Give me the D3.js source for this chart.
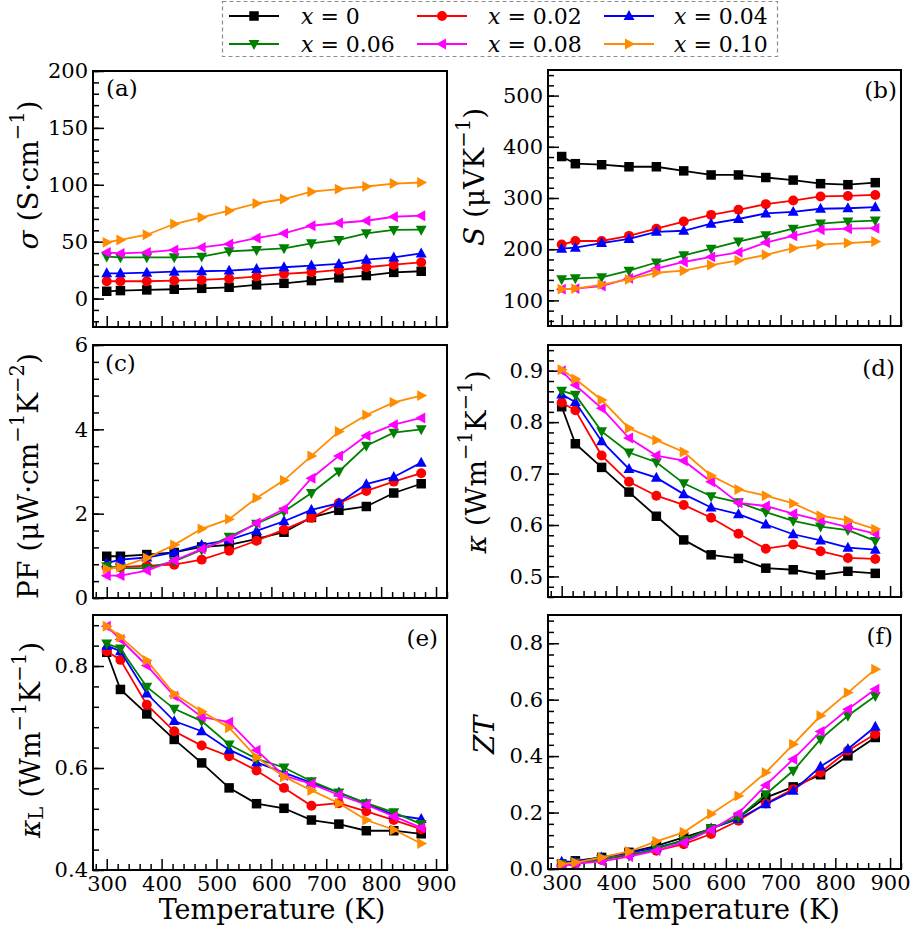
<!DOCTYPE html>
<html><head><meta charset="utf-8">
<script src="https://cdn.jsdelivr.net/npm/d3@7"></script>
<style>
body{margin:0;background:#fff}
svg{display:block}
text{font-family:"DejaVu Serif",serif;fill:#000}
</style>
</head><body>
<svg id="chart" width="913" height="938" font-family="DejaVu Serif"></svg>
<script>
// ---------------- data ----------------
const temperatures = [300, 325, 373, 423, 473, 523, 573, 623, 673, 723, 773, 823, 873];
const compositions = ["0", "0.02", "0.04", "0.06", "0.08", "0.10"];

// (a) electrical conductivity, S/cm  (rows: x = 0, 0.02, 0.04, 0.06, 0.08, 0.10)
const sigma = [
  [6.4, 7.0, 7.6, 8.2, 9.0, 9.9, 12.0, 13.4, 15.8, 18.2, 20.2, 23.0, 24.0],
  [15.2, 15.2, 15.2, 15.8, 16.4, 17.5, 19.3, 21.7, 23.1, 25.2, 27.5, 29.8, 31.8],
  [22.2, 22.2, 22.8, 23.7, 24.0, 24.6, 26.0, 27.5, 29.0, 30.4, 34.2, 36.2, 39.7],
  [36.8, 36.2, 36.2, 36.2, 36.8, 41.5, 42.7, 44.1, 48.5, 51.5, 57.3, 60.3, 60.5],
  [40.6, 39.7, 40.6, 42.7, 45.0, 48.0, 53.2, 57.3, 64.0, 66.4, 68.4, 71.9, 72.8],
  [49.4, 51.5, 56.1, 65.5, 71.3, 77.2, 83.6, 87.5, 93.9, 96.2, 98.5, 101.1, 102.0]
];
// (b) Seebeck coefficient, uV/K
const seebeck = [
  [381, 367, 365, 361, 361, 353, 345, 345, 340, 335, 328, 326, 330],
  [209, 216, 216, 226, 240, 254, 267, 277, 288, 295, 303, 304, 306],
  [201, 203, 212, 220, 234, 236, 250, 259, 270, 273, 279, 280, 282],
  [141, 143, 145, 158, 174, 188, 201, 215, 227, 240, 250, 254, 256],
  [122, 123, 128, 143, 162, 175, 185, 194, 213, 226, 238, 240, 241],
  [122, 123, 131, 141, 154, 158, 169, 178, 189, 202, 209, 212, 215]
];
// (c) power factor, uW cm^-1 K^-2
const powerFactor = [
  [0.99, 0.99, 1.03, 1.08, 1.21, 1.26, 1.40, 1.56, 1.91, 2.08, 2.17, 2.49, 2.71],
  [0.73, 0.73, 0.77, 0.79, 0.91, 1.12, 1.36, 1.62, 1.90, 2.25, 2.54, 2.76, 2.96],
  [0.83, 0.91, 0.96, 1.08, 1.26, 1.38, 1.59, 1.82, 2.09, 2.25, 2.70, 2.87, 3.21],
  [0.75, 0.71, 0.71, 0.87, 1.14, 1.45, 1.76, 2.05, 2.49, 3.00, 3.61, 3.92, 4.00],
  [0.53, 0.53, 0.65, 0.89, 1.16, 1.40, 1.78, 2.11, 2.84, 3.37, 3.85, 4.11, 4.27],
  [0.69, 0.73, 0.95, 1.26, 1.64, 1.87, 2.37, 2.79, 3.37, 3.95, 4.34, 4.64, 4.80]
];
// (d) total thermal conductivity, W m^-1 K^-1
const kappa = [
  [0.830, 0.758, 0.712, 0.664, 0.617, 0.571, 0.542, 0.535, 0.516, 0.513, 0.503, 0.510, 0.506],
  [0.838, 0.823, 0.735, 0.684, 0.657, 0.639, 0.614, 0.583, 0.554, 0.562, 0.549, 0.536, 0.534],
  [0.854, 0.839, 0.763, 0.709, 0.692, 0.660, 0.634, 0.621, 0.601, 0.582, 0.570, 0.556, 0.552],
  [0.861, 0.853, 0.782, 0.741, 0.722, 0.681, 0.656, 0.644, 0.625, 0.608, 0.597, 0.590, 0.569],
  [0.900, 0.872, 0.827, 0.769, 0.735, 0.725, 0.684, 0.643, 0.637, 0.622, 0.609, 0.596, 0.583],
  [0.902, 0.884, 0.843, 0.788, 0.765, 0.742, 0.696, 0.669, 0.657, 0.642, 0.618, 0.609, 0.592]
];
// (e) lattice thermal conductivity, W m^-1 K^-1
const kappaL = [
  [0.827, 0.754, 0.706, 0.656, 0.610, 0.561, 0.530, 0.521, 0.498, 0.490, 0.477, 0.477, 0.471],
  [0.829, 0.812, 0.724, 0.672, 0.644, 0.623, 0.595, 0.561, 0.526, 0.531, 0.515, 0.498, 0.480],
  [0.840, 0.829, 0.746, 0.692, 0.672, 0.636, 0.611, 0.591, 0.571, 0.552, 0.530, 0.508, 0.500],
  [0.844, 0.834, 0.759, 0.716, 0.692, 0.646, 0.618, 0.601, 0.574, 0.552, 0.531, 0.513, 0.490],
  [0.878, 0.852, 0.801, 0.741, 0.700, 0.690, 0.635, 0.585, 0.569, 0.547, 0.528, 0.505, 0.483],
  [0.878, 0.857, 0.811, 0.745, 0.711, 0.679, 0.621, 0.583, 0.556, 0.531, 0.498, 0.479, 0.452]
];
// (f) figure of merit ZT
const zt = [
  [0.018, 0.029, 0.041, 0.059, 0.082, 0.112, 0.142, 0.183, 0.253, 0.291, 0.334, 0.401, 0.466],
  [0.018, 0.020, 0.032, 0.053, 0.065, 0.088, 0.124, 0.171, 0.232, 0.283, 0.342, 0.419, 0.478],
  [0.026, 0.026, 0.041, 0.057, 0.076, 0.100, 0.144, 0.177, 0.230, 0.277, 0.363, 0.425, 0.504],
  [0.018, 0.023, 0.035, 0.047, 0.071, 0.103, 0.144, 0.183, 0.265, 0.348, 0.460, 0.543, 0.613],
  [0.009, 0.018, 0.027, 0.044, 0.065, 0.094, 0.138, 0.197, 0.297, 0.389, 0.487, 0.566, 0.637],
  [0.018, 0.023, 0.041, 0.062, 0.098, 0.130, 0.195, 0.259, 0.342, 0.442, 0.543, 0.625, 0.708]
];

// tick labels
const xTicks = [300, 400, 500, 600, 700, 800, 900];
const sigmaTicks = [0, 50, 100, 150, 200];
const seebeckTicks = [100, 200, 300, 400, 500];
const pfTicks = [0, 2, 4, 6];
const kappaTicks = [0.5, 0.6, 0.7, 0.8, 0.9];
const kappaLTicks = [0.4, 0.6, 0.8];
const ztTicks = [0.0, 0.2, 0.4, 0.6, 0.8];

// ---------------- styling / layout ----------------
const FONT = "DejaVu Serif";
const seriesColors = ["#000000", "#ff0000", "#0000ff", "#008000", "#ff00ff", "#ff8c00"];
const seriesMarkers = ["square", "circle", "up", "down", "left", "right"];

const svg = d3.select("#chart");
const TICK_FONT = 21;
const YLAB_FONT = 28;

const panels = [
  {key: "a", data: sigma, ticks: sigmaTicks, fmt: d3.format("d"), domain: [-25, 200], minor: 10,
   box: [93, 447, 71, 327], xLabels: false, tag: {x: 106, y: 96, anchor: "start"},
   ylab: {x: 28, y: 175, parts: [["σ", "i"], [" (S·cm", ""], ["−1", "sup"], [")", ""]]}},
  {key: "b", data: seebeck, ticks: seebeckTicks, fmt: d3.format("d"), domain: [50, 550], minor: 20,
   box: [548, 901, 70, 326], xLabels: false, tag: {x: 897, y: 98, anchor: "end"},
   ylab: {x: 474, y: 177, parts: [["S", "i"], [" (μVK", ""], ["−1", "sup"], [")", ""]]}},
  {key: "c", data: powerFactor, ticks: pfTicks, fmt: d3.format("d"), domain: [0, 6], minor: 0.4,
   box: [93, 447, 345, 598], xLabels: false, tag: {x: 105, y: 371, anchor: "start"},
   ylab: {x: 28, y: 476, parts: [["PF (μW·cm", ""], ["−1", "sup"], ["K", ""], ["−2", "sup"], [")", ""]]}},
  {key: "d", data: kappa, ticks: kappaTicks, fmt: d3.format(".1f"), domain: [0.46, 0.95], minor: 0.02,
   box: [548, 901, 345, 597], xLabels: false, tag: {x: 895, y: 376, anchor: "end"},
   ylab: {x: 476, y: 462, parts: [["κ", "i"], [" (Wm", ""], ["−1", "sup"], ["K", ""], ["−1", "sup"], [")", ""]]}},
  {key: "e", data: kappaL, ticks: kappaLTicks, fmt: d3.format(".1f"), domain: [0.4, 0.9], minor: 0.04,
   box: [93, 447, 615, 870], xLabels: true, tag: {x: 438, y: 646, anchor: "end"},
   ylab: {x: 30, y: 740, parts: [["κ", "i"], ["L", "sub"], [" (Wm", ""], ["−1", "sup"], ["K", ""], ["−1", "sup"], [")", ""]]}},
  {key: "f", data: zt, ticks: ztTicks, fmt: d3.format(".1f"), domain: [0, 0.9], minor: 0.04,
   box: [548, 901, 615, 869], xLabels: true, tag: {x: 893, y: 644, anchor: "end"},
   ylab: {x: 484, y: 735, parts: [["ZT", "i"]]}}
];

function markerPath(type, s) {
  const h = s / 2;
  switch (type) {
    case "square": return `M${-h},${-h}H${h}V${h}H${-h}Z`;
    case "circle": return d3.symbol(d3.symbolCircle, Math.PI * h * h * 1.1)();
    case "up": return `M0,${-h * 1.25}L${h * 1.15},${h * 0.85}L${-h * 1.15},${h * 0.85}Z`;
    case "down": return `M0,${h * 1.25}L${h * 1.15},${-h * 0.85}L${-h * 1.15},${-h * 0.85}Z`;
    case "left": return `M${-h * 1.25},0L${h * 0.85},${-h * 1.15}L${h * 0.85},${h * 1.15}Z`;
    case "right": return `M${h * 1.25},0L${-h * 0.85},${-h * 1.15}L${-h * 0.85},${h * 1.15}Z`;
  }
}

function addParts(textSel, parts, size) {
  parts.forEach(([str, kind], i) => {
    const prev = i > 0 ? parts[i - 1][1] : "";
    const t = textSel.append("tspan").text(str);
    let dy = 0;
    if (prev === "sup") dy += size * 0.38;
    if (prev === "sub") dy -= size * 0.22;
    if (kind === "sup") { dy -= size * 0.38; t.attr("font-size", size * 0.7); }
    if (kind === "sub") { dy += size * 0.22; t.attr("font-size", size * 0.7); }
    if (kind === "i") t.attr("font-style", "italic");
    if (dy) t.attr("dy", dy);
  });
}

function rangeStep(a, b, step) {
  const out = [];
  const n = Math.round((b - a) / step);
  for (let i = 0; i <= n; i++) out.push(+(a + i * step).toFixed(6));
  return out;
}

function styleAxis(a) {
  a.attr("font-family", FONT);
  a.select(".domain").remove();
  a.selectAll("line").attr("stroke", "#000").attr("stroke-width", 1.5);
  a.selectAll("text").attr("font-size", TICK_FONT).attr("font-family", FONT).attr("fill", "#000");
}

panels.forEach(p => {
  const [x0, x1, y0, y1] = p.box;
  const x = d3.scaleLinear().domain([275, 920]).range([x0, x1]);
  const y = d3.scaleLinear().domain(p.domain).range([y1, y0]);
  const g = svg.append("g");

  // minor ticks
  const xMinor = rangeStep(280, 920, 20).filter(v => v % 100 !== 0);
  const yStart = Math.ceil(p.domain[0] / p.minor - 1e-9) * p.minor;
  const yMinor = rangeStep(yStart, p.domain[1], p.minor).filter(v => v >= p.domain[0] - 1e-9 && v <= p.domain[1] + 1e-9);

  g.append("g").attr("transform", `translate(0,${y1})`)
    .call(d3.axisBottom(x).tickValues(xMinor).tickSize(-6).tickFormat(""))
    .call(styleAxis);
  g.append("g").attr("transform", `translate(${x0},0)`)
    .call(d3.axisLeft(y).tickValues(yMinor).tickSize(-6).tickFormat(""))
    .call(styleAxis);

  // major ticks
  g.append("g").attr("transform", `translate(0,${y1})`)
    .call(d3.axisBottom(x).tickValues(xTicks).tickSize(-11).tickPadding(6)
      .tickFormat(p.xLabels ? d3.format("d") : ""))
    .call(styleAxis);
  g.append("g").attr("transform", `translate(${x0},0)`)
    .call(d3.axisLeft(y).tickValues(p.ticks).tickSize(-11).tickPadding(5).tickFormat(p.fmt))
    .call(styleAxis);

  // series
  const clipId = "clip-" + p.key;
  svg.append("clipPath").attr("id", clipId).append("rect")
    .attr("x", x0).attr("y", y0).attr("width", x1 - x0).attr("height", y1 - y0);
  const plot = g.append("g").attr("clip-path", `url(#${clipId})`);
  const line = d3.line().x((d, i) => x(temperatures[i])).y(d => y(d));
  p.data.forEach((vals, si) => {
    const sg = plot.append("g");
    sg.append("path").attr("d", line(vals)).attr("fill", "none")
      .attr("stroke", seriesColors[si]).attr("stroke-width", 1.8);
    sg.selectAll("path.m").data(vals).enter().append("path").attr("class", "m")
      .attr("d", markerPath(seriesMarkers[si], 9.5))
      .attr("transform", (d, i) => `translate(${x(temperatures[i])},${y(d)})`)
      .attr("fill", seriesColors[si]);
  });

  // frame
  g.append("rect").attr("x", x0).attr("y", y0).attr("width", x1 - x0).attr("height", y1 - y0)
    .attr("fill", "none").attr("stroke", "#000").attr("stroke-width", 2);

  // panel tag
  g.append("text").attr("x", p.tag.x).attr("y", p.tag.y).attr("text-anchor", p.tag.anchor)
    .attr("font-family", FONT).attr("font-size", 23).text(`(${p.key})`);

  // y label
  const yl = g.append("text").attr("transform", `translate(${p.ylab.x},${p.ylab.y}) rotate(-90)`)
    .attr("text-anchor", "middle").attr("dominant-baseline", "central")
    .attr("font-family", FONT).attr("font-size", YLAB_FONT);
  addParts(yl, p.ylab.parts, YLAB_FONT);

  if (p.xLabels) {
    g.append("text").attr("x", (x0 + x1) / 2 + 2).attr("y", 919).attr("text-anchor", "middle")
      .attr("font-family", FONT).attr("font-size", 27).text("Temperature (K)");
  }
});

// ---------------- legend ----------------
const legend = svg.append("g");
legend.append("rect").attr("x", 222.5).attr("y", 1.5).attr("width", 555).attr("height", 55)
  .attr("fill", "#fff").attr("stroke", "#8c8c8c").attr("stroke-width", 1.2).attr("stroke-dasharray", "4,3");
const legCols = [{lx: 229, tx: 301}, {lx: 417, tx: 488}, {lx: 604, tx: 674}];
const legRows = [16, 44];
compositions.forEach((c, i) => {
  const col = legCols[i % 3], row = legRows[Math.floor(i / 3)];
  legend.append("line").attr("x1", col.lx).attr("x2", col.lx + 50).attr("y1", row).attr("y2", row)
    .attr("stroke", seriesColors[i]).attr("stroke-width", 1.8);
  legend.append("path").attr("d", markerPath(seriesMarkers[i], 9.5))
    .attr("transform", `translate(${col.lx + 25},${row})`).attr("fill", seriesColors[i]);
  const t = legend.append("text").attr("x", col.tx).attr("y", row).attr("dominant-baseline", "central")
    .attr("font-family", FONT).attr("font-size", 22);
  t.append("tspan").attr("font-style", "italic").text("x");
  t.append("tspan").text(" = " + c);
});
</script>
</body></html>
